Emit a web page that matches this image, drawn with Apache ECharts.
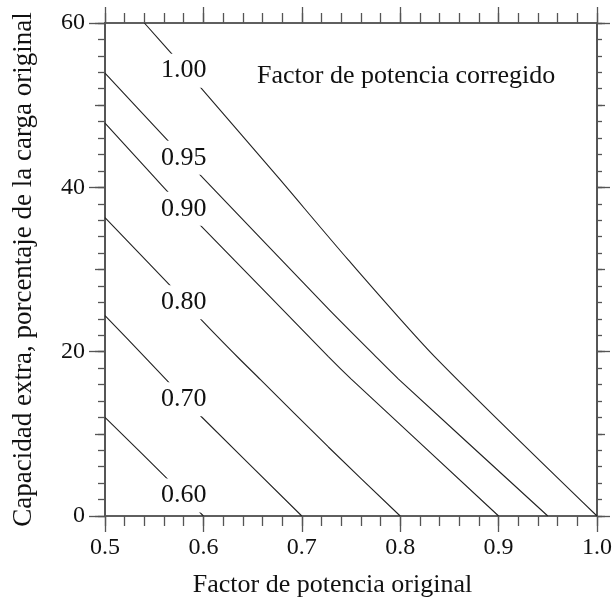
<!DOCTYPE html>
<html>
<head>
<meta charset="utf-8">
<script src="https://cdn.jsdelivr.net/npm/echarts@6/dist/echarts.min.js"></script>
<style>html,body{margin:0;padding:0;background:#fff;}#c{width:615px;height:603px;}</style>
</head>
<body>
<div id="c"></div>
<script>
// Curves of corrected power factor: [original pf, extra capacity %]
const curve100 = [[0.54,60.0],[0.569,56.1],[0.594,52.6],[0.676,41.2],[0.747,31.2],[0.835,19.4],[1.0,0]];
const curve095 = [[0.5,53.9],[0.567,45.3],[0.6,41.1],[0.727,25.2],[0.776,19.3],[0.798,16.7],[0.95,0]];
const curve090 = [[0.5,47.8],[0.552,41.0],[0.569,38.8],[0.596,35.5],[0.727,19.4],[0.75,16.7],[0.9,0]];
const curve080 = [[0.5,36.3],[0.569,27.7],[0.597,24.0],[0.636,19.2],[0.658,16.6],[0.727,8.4],[0.8,0]];
const curve070 = [[0.5,24.4],[0.54,19.4],[0.567,16.0],[0.597,12.2],[0.7,0]];
const curve060 = [[0.5,12.0],[0.567,4.1],[0.6,0]];
const curveNames = ['1.00','0.95','0.90','0.80','0.70','0.60'];
const curves = [curve100, curve095, curve090, curve080, curve070, curve060];
// Label anchor positions on each curve
const labelPoints = [[0.58,54.2],[0.58,43.6],[0.58,37.4],[0.58,26.0],[0.58,14.2],[0.58,2.5]];
const xRange = [0.5, 1.0];
const xMajor = 0.1, xMinor = 0.02;
const yRange = [0, 60];
const yLabelStep = 20, yMid = 10, yMinor = 2;

const FONT = '"Liberation Serif", "DejaVu Serif", serif';
const AX = '#555';
const TXT = '#111';

function ax(kind, pos, interval, len, extra) {
  const r = kind === 'x' ? xRange : yRange;
  return Object.assign({
    type: 'value', min: r[0], max: r[1], interval: interval, position: pos, offset: 0,
    axisLine: { show: true, onZero: false, lineStyle: { color: AX, width: 1.6 } },
    axisTick: { show: true, inside: false, length: len, lineStyle: { color: AX, width: 1.3 } },
    minorTick: { show: false }, splitLine: { show: false }, minorSplitLine: { show: false },
    axisLabel: { show: false }
  }, extra || {});
}

const series = curves.map((c, i) => ({
  type: 'line', name: curveNames[i], data: c, xAxisIndex: 0, yAxisIndex: 0,
  showSymbol: false, symbol: 'none', smooth: 0.25, silent: true, z: 2,
  lineStyle: { color: '#222', width: 1.1 }
}));
series.push({
  type: 'scatter', xAxisIndex: 0, yAxisIndex: 0, symbolSize: 0, silent: true, z: 5,
  itemStyle: { opacity: 1, color: '#fff' },
  data: labelPoints.map((p, i) => ({ value: p, name: curveNames[i] })),
  label: {
    show: true, position: 'inside', formatter: p => p.name, opacity: 1,
    fontFamily: FONT, fontSize: 26, color: TXT,
    backgroundColor: '#fff', padding: [5, 3, 3, 3]
  }
});

const chart = echarts.init(document.getElementById('c'), null, { renderer: 'canvas' });
chart.setOption({
  animation: false,
  backgroundColor: '#fff',
  title: {
    text: 'Factor de potencia corregido', left: 257, top: 63, padding: 0,
    textStyle: { fontFamily: FONT, fontSize: 26, fontWeight: 'normal', color: TXT }
  },
  grid: { left: 105, right: 15, top: 23, bottom: 85.5, containLabel: false },
  xAxis: [
    ax('x', 'bottom', xMajor, 16, {
      axisLabel: { show: true, margin: 20, fontFamily: FONT, fontSize: 24, color: TXT,
        formatter: v => v.toFixed(1) },
      name: 'Factor de potencia original', nameLocation: 'middle', nameGap: 56,
      nameTextStyle: { fontFamily: FONT, fontSize: 26, color: TXT, padding: [0, 37, 0, 0] }
    }),
    ax('x', 'bottom', xMinor, 10),
    ax('x', 'top', xMajor, 16),
    ax('x', 'top', xMinor, 10)
  ],
  yAxis: [
    ax('y', 'left', yLabelStep, 16, {
      axisLabel: { show: true, margin: 20, fontFamily: FONT, fontSize: 24, color: TXT },
      name: 'Capacidad extra, porcentaje de la carga original', nameLocation: 'middle', nameGap: 68,
      nameTextStyle: { fontFamily: FONT, fontSize: 27, color: TXT }
    }),
    ax('y', 'left', yMid, 10),
    ax('y', 'left', yMinor, 7),
    ax('y', 'right', yLabelStep, 13),
    ax('y', 'right', yMid, 8),
    ax('y', 'right', yMinor, 5)
  ],
  series: series
});
</script>
</body>
</html>
